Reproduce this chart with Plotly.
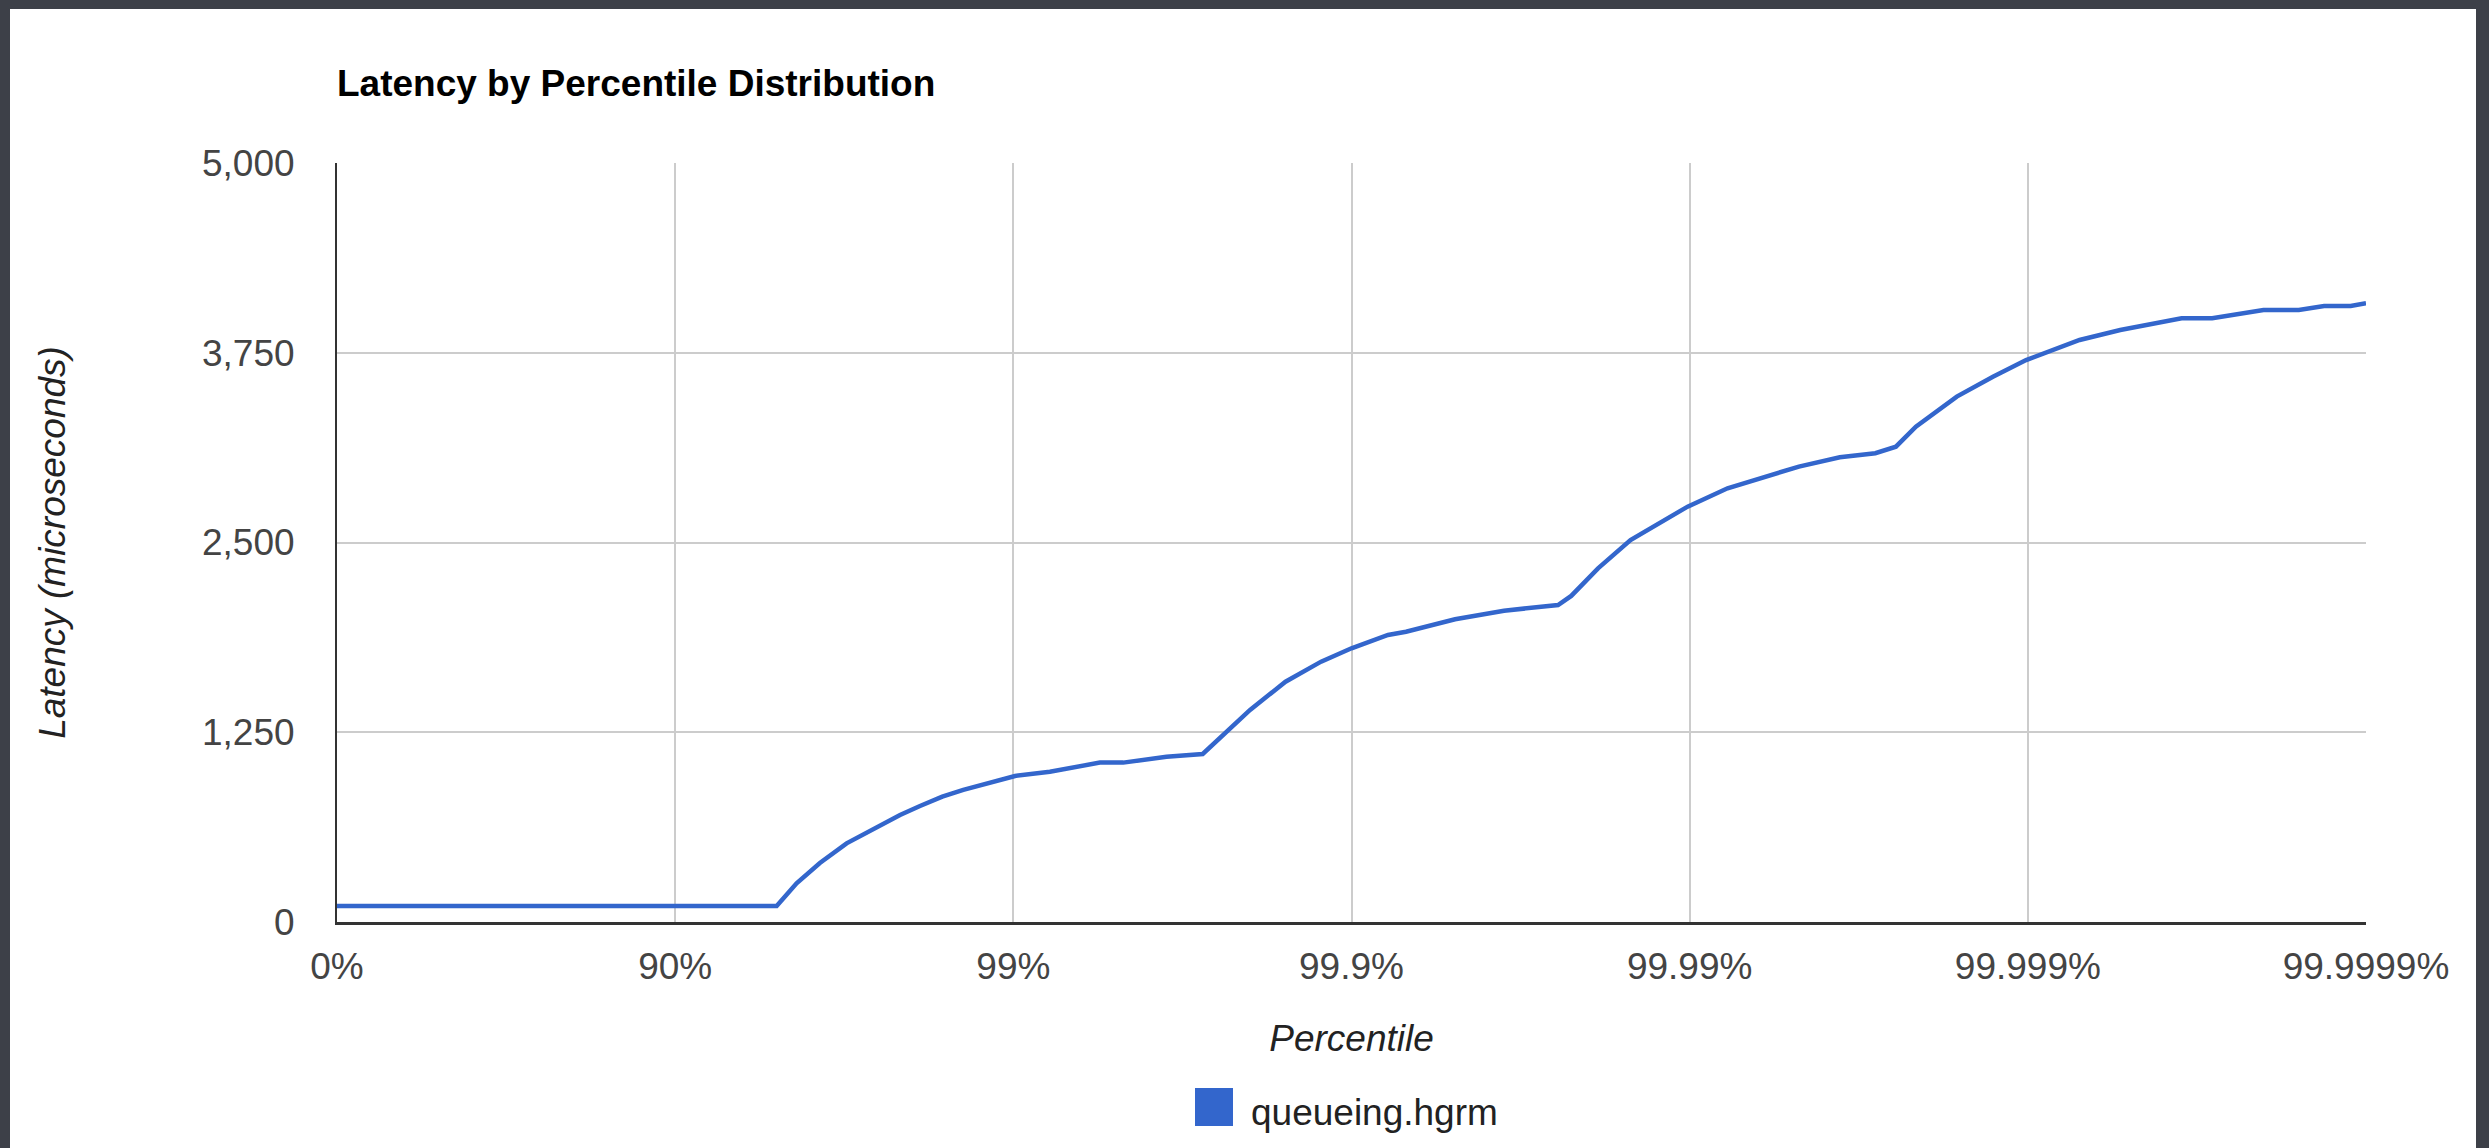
import plotly.graph_objects as go

# ---- data ----
percentile = [0, 90.0, 94.99, 95.625, 96.267, 96.888, 97.465, 97.837, 98.112, 98.378,
              98.594, 98.825, 99.0114, 99.2202, 99.3393, 99.4454, 99.5268, 99.6476,
              99.7246, 99.7746, 99.8005, 99.8433, 99.877, 99.9, 99.922, 99.931,
              99.9506, 99.9646, 99.9755, 99.9776, 99.98134, 99.98504, 99.98986,
              99.992273, 99.994139, 99.995247, 99.996403, 99.997175, 99.997545,
              99.997857, 99.998378, 99.998732, 99.998988, 99.999297, 99.999467,
              99.999649, 99.999715, 99.999799, 99.999842, 99.999867, 99.999889, 99.9999]
latency_us = [105, 105, 105, 255, 389, 518, 628, 705, 764, 826,
              870, 915, 962, 990, 1020, 1050, 1050, 1089,
              1107, 1287, 1397, 1583, 1715, 1803, 1891, 1912,
              1994, 2051, 2088, 2148, 2330, 2516, 2736,
              2857, 2938, 3000, 3061, 3088, 3131,
              3263, 3461, 3592, 3702, 3834, 3900,
              3977, 3977, 4032, 4032, 4058, 4058, 4076]
series_name = "queueing.hgrm"

x_tickvals = [1, 10, 100, 1e3, 1e4, 1e5, 1e6]
x_ticktext = ["0%", "90%", "99%", "99.9%", "99.99%", "99.999%", "99.9999%"]
y_tickvals = [0, 1250, 2500, 3750, 5000]
y_ticktext = ["0", "1,250", "2,500", "3,750", "5,000"]

# HdrHistogram plots against 1/(1-percentile) on a log axis
inverse_tail = [1.0 / (1.0 - p / 100.0) for p in percentile]

W, H = 2489, 1148
L, R, T, B = 337, 123, 163, 226
pw, ph = W - L - R, H - T - B

def px(xpix):
    return (xpix - L) / pw

def py(ypix):
    return (H - B - ypix) / ph

FONT = "Liberation Sans, Arial, sans-serif"
BLUE = "#3366cc"

fig = go.Figure()
fig.add_trace(go.Scatter(
    x=inverse_tail, y=latency_us, mode="lines", name=series_name,
    line=dict(color=BLUE, width=4.5), showlegend=False,
))

fig.update_layout(
    template="none",
    width=W, height=H,
    margin=dict(l=L, r=R, t=T, b=B, pad=0),
    paper_bgcolor="#3d4048",
    plot_bgcolor="white",
    font=dict(family=FONT, size=37, color="#444444"),
    title=dict(text="<b>Latency by Percentile Distribution</b>",
               x=0, xref="paper", xanchor="left",
               y=1 - 83 / H, yref="container", yanchor="middle",
               pad=dict(l=0, r=0, t=0, b=0),
               font=dict(family=FONT, size=37, color="#000000")),
    xaxis=dict(type="log", range=[0, 6], tickmode="array",
               tickvals=x_tickvals, ticktext=x_ticktext,
               showgrid=True, gridcolor="#cccccc", gridwidth=2,
               showline=True, linecolor="#333333", linewidth=3,
               zeroline=False, ticks="", automargin=False,
               ticklabelstandoff=10,
               tickfont=dict(family=FONT, size=37, color="#444444"),
               title=dict(text="Percentile", standoff=39,
                          font=dict(family=FONT, size=37, color="#222222",
                                    style="italic"))),
    yaxis=dict(range=[0, 5000], tickmode="array",
               tickvals=y_tickvals, ticktext=y_ticktext,
               showgrid=True, gridcolor="#cccccc", gridwidth=2,
               showline=True, linecolor="#333333", linewidth=2,
               zeroline=False, ticks="", automargin=False,
               ticklabelstandoff=33,
               tickfont=dict(family=FONT, size=37, color="#444444"),
               title=dict(text="Latency (microseconds)", standoff=125,
                          font=dict(family=FONT, size=37, color="#222222",
                                    style="italic"))),
    showlegend=False,
    hovermode=False,
)

# white slide panel
fig.add_shape(type="rect", xref="paper", yref="paper",
              x0=px(10), x1=px(2476), y0=py(1200), y1=py(9),
              fillcolor="white", line=dict(width=0), layer="below")

# legend (key square + label)
fig.add_shape(type="rect", xref="paper", yref="paper",
              x0=px(1195), x1=px(1233), y0=py(1126), y1=py(1088),
              fillcolor=BLUE, line=dict(width=0))
fig.add_annotation(text=series_name, xref="paper", yref="paper",
                   x=px(1249), y=py(1112), xanchor="left", yanchor="middle",
                   showarrow=False,
                   font=dict(family=FONT, size=37, color="#222222"))

fig.write_html("out.html")
